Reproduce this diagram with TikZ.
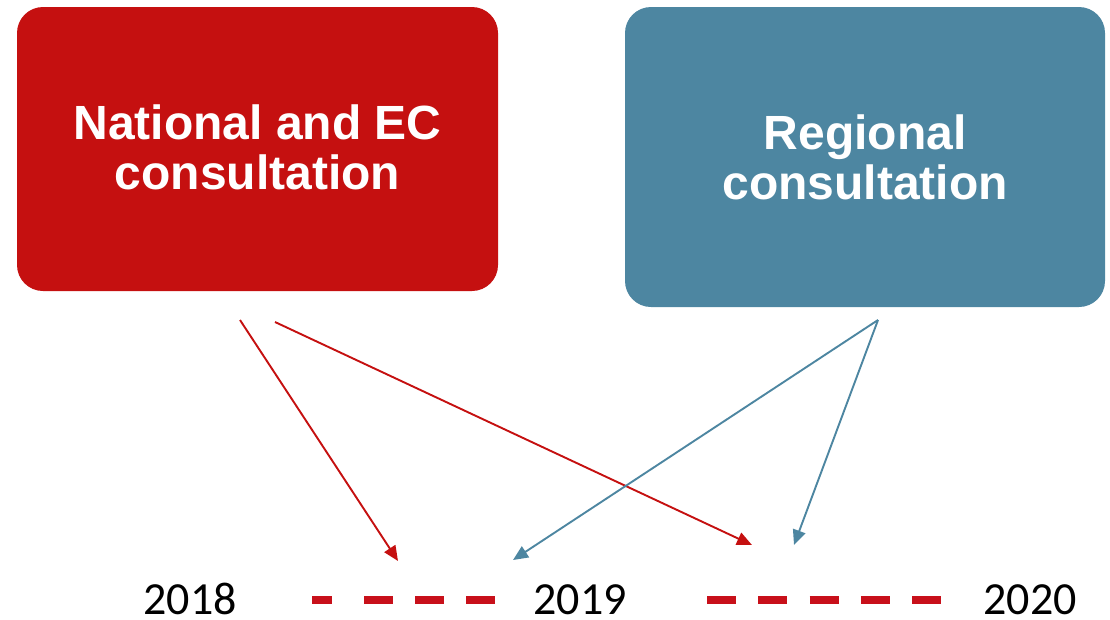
\documentclass[tikz,border=0pt]{standalone}
\usepackage{fontspec}
\setmainfont{Carlito}
\newfontfamily\boxfont{Liberation Sans}
\usetikzlibrary{arrows.meta}
\definecolor{natred}{HTML}{C51010}
\definecolor{regblue}{HTML}{4D86A1}
\definecolor{dashred}{HTML}{C8101A}
\tikzset{
  consbox/.style={rounded corners=26pt, inner sep=0pt, text=white,
    font=\boxfont\bfseries\fontsize{48}{50}\selectfont, align=center},
  redarrow/.style={draw=natred, line width=1.9pt, -{Triangle[length=15pt,width=13pt]}},
  bluearrow/.style={draw=regblue, line width=1.9pt, -{Triangle[length=15pt,width=13pt]}},
  timeline/.style={draw=dashred, line width=8pt},
  year/.style={font=\fontsize{46}{50}\selectfont, anchor=base, inner sep=0pt, text depth=0pt}
}
\begin{document}
\begin{tikzpicture}[x=1pt,y=-1pt]
\useasboundingbox (0,0) rectangle (1110,619);
% boxes
\fill[natred, rounded corners=26pt] (17,7) rectangle (498,291);
\node[consbox] (nat) at (257.5,147) {National and EC\\consultation};
\fill[regblue, rounded corners=26pt] (625,7) rectangle (1105,307);
\node[consbox] (reg) at (865,157) {Regional\\consultation};
% arrow ends
\coordinate (n1) at (240,320);
\coordinate (n2) at (275,322);
\coordinate (r1) at (878,320);
\coordinate (t1) at (398,561);
\coordinate (t2) at (752,545);
\coordinate (t3) at (513,560);
\coordinate (t4) at (794,545);
\draw[redarrow] (n1) -- (t1);
\draw[redarrow] (n2) -- (t2);
\draw[bluearrow] (r1) -- (t3);
\draw[bluearrow] (r1) -- (t4);
% timeline
\coordinate (a0) at (312,600);
\coordinate (a1) at (332,600);
\coordinate (b0) at (364,600);
\coordinate (b1) at (496,600);
\coordinate (c0) at (707,600);
\coordinate (c1) at (941,600);
\draw[timeline] (a0) -- (a1);
\draw[timeline, dash pattern=on 29pt off 22pt] (b0) -- (b1);
\draw[timeline, dash pattern=on 29pt off 22.3pt] (c0) -- (c1);
% years
\node[year] (y18) at (190,614) {2018};
\node[year] (y19) at (580,614) {2019};
\node[year] (y20) at (1030,614) {2020};
\end{tikzpicture}
\end{document}
